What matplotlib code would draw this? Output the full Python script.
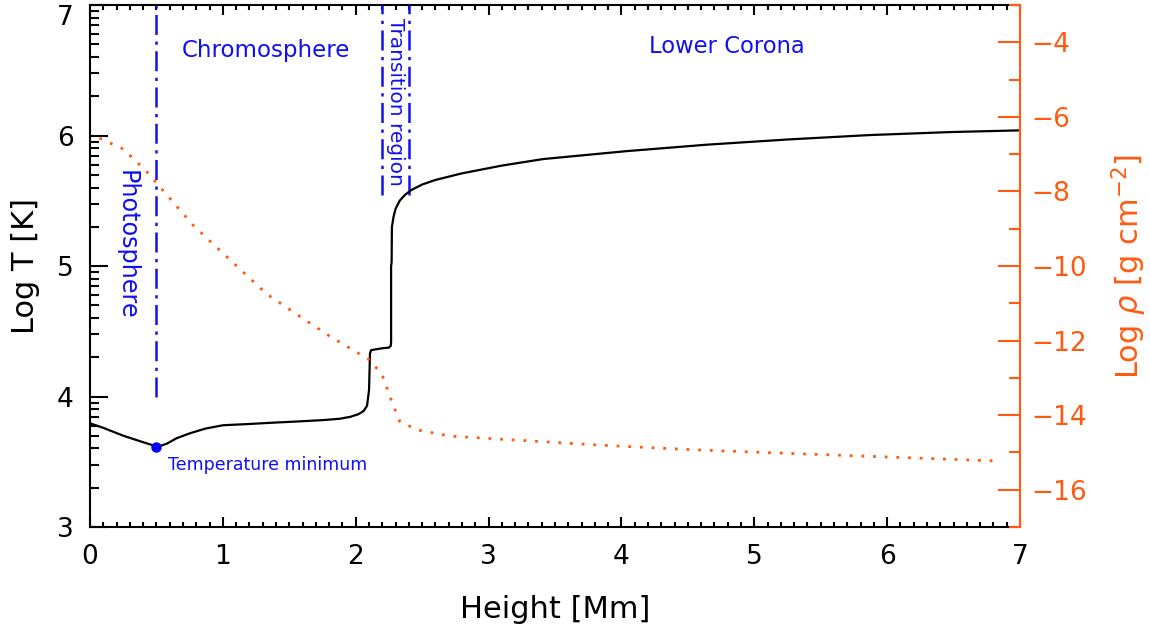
import numpy as np
import matplotlib
matplotlib.use('Agg')
import matplotlib.pyplot as plt
from matplotlib.ticker import FixedLocator, MultipleLocator

# Temperature profile: height [Mm], log T [K]
height_t = [0.0, 0.1, 0.25, 0.4, 0.51, 0.58, 0.65, 0.75, 0.87, 1.0, 1.2, 1.38, 1.58,
            1.76, 1.88, 1.96, 2.02, 2.06, 2.085, 2.10, 2.107, 2.115, 2.14, 2.20, 2.25,
            2.264, 2.266, 2.266, 2.27, 2.272, 2.285, 2.30, 2.33, 2.37, 2.414, 2.50,
            2.60, 2.797, 3.1, 3.41, 4.03, 4.64, 5.25, 5.87, 6.48, 7.0]
log_t = [3.795, 3.76, 3.70, 3.65, 3.615, 3.64, 3.68, 3.718, 3.755, 3.78, 3.79, 3.80,
         3.81, 3.82, 3.83, 3.845, 3.865, 3.89, 3.93, 4.05, 4.33, 4.355, 4.36, 4.37,
         4.375, 4.39, 4.42, 5.00, 5.03, 5.30, 5.38, 5.44, 5.50, 5.545, 5.58, 5.625,
         5.66, 5.71, 5.77, 5.82, 5.88, 5.93, 5.97, 6.004, 6.027, 6.04]

# Density profile: height [Mm], log rho [g cm^-2]
height_rho = [0.07, 0.25, 0.43, 0.65, 0.78, 1.05, 1.33, 1.62, 1.83, 2.107, 2.20,
              2.28, 2.33, 2.46, 2.71, 3.03, 3.50, 3.82, 4.50, 5.00, 6.00, 6.84]
log_rho = [-6.57, -6.86, -7.48, -8.39, -8.92, -9.82, -10.75, -11.45, -11.94,
           -12.52, -12.93, -13.72, -14.16, -14.39, -14.56, -14.63, -14.73,
           -14.80, -14.92, -14.99, -15.12, -15.23]

# Temperature minimum
t_min_height, t_min_logt = 0.5, 3.612

# Region boundaries (height, ymin, ymax in log T)
bound_photo = (0.5, 3.996, 7.0)
bound_tr_low = (2.198, 5.544, 7.0)
bound_tr_high = (2.40, 5.544, 7.0)

col_blue = '#1010F0'
col_orange = '#FF5A10'
font_tick = 19
font_label = 22

fig = plt.figure(figsize=(11.5, 6.35), dpi=100)
ax1 = fig.add_axes([0.0783, 0.170, 0.8087, 0.822])
ax2 = ax1.twinx()

# Temperature curve
ax1.plot(height_t, log_t, color='black', lw=1.6, zorder=4)
ax1.plot([t_min_height], [t_min_logt], 'o', color='#0000FF', ms=6.5, zorder=5)

# Region lines
dash_dot = (0, (8, 2.6, 1.3, 2.6))
for bx, by0, by1 in (bound_photo, bound_tr_low, bound_tr_high):
    ax1.plot([bx, bx], [by0, by1], color=col_blue, lw=1.8, linestyle=dash_dot, zorder=3)

# Region labels
ax1.text(1.325, 6.655, 'Chromosphere', color=col_blue, fontsize=16.5, ha='center', va='center')
ax1.text(4.795, 6.68, 'Lower Corona', color=col_blue, fontsize=16.3, ha='center', va='center')
ax1.text(0.278, 5.16, 'Photosphere', color=col_blue, fontsize=17.2, rotation=270,
         ha='center', va='center')
ax1.text(2.30, 6.26, 'Transition region', color=col_blue, fontsize=14.5, rotation=270,
         ha='center', va='center')
ax1.text(0.587, 3.475, 'Temperature minimum', color=col_blue, fontsize=12.5,
         ha='left', va='center')

# Density curve
ax2.plot(height_rho, log_rho, color=col_orange, lw=2.0, linestyle=(0, (1, 3.2)),
         dash_capstyle='butt', zorder=2)

# Axes limits
ax1.set_xlim(0, 7)
ax1.set_ylim(3, 7)
ax2.set_ylim(-17, -3)

# Left axis ticks (log minor ticks)
ax1.yaxis.set_major_locator(FixedLocator([3, 4, 5, 6, 7]))
minor_t = [n + np.log10(k) for n in range(3, 7) for k in range(2, 10)]
ax1.yaxis.set_minor_locator(FixedLocator(minor_t))
ax1.xaxis.set_major_locator(MultipleLocator(1))
ax1.xaxis.set_minor_locator(MultipleLocator(0.1))
ax1.tick_params(axis='y', which='major', direction='in', length=13, width=1.5,
                left=True, right=False, labelsize=font_tick, pad=12)
ax1.tick_params(axis='y', which='minor', direction='in', length=6.5, width=1.5,
                left=True, right=False)
ax1.tick_params(axis='x', which='major', direction='in', length=7, width=1.5,
                top=True, bottom=True, labelsize=font_tick, pad=12)
ax1.tick_params(axis='x', which='minor', direction='in', length=3.5, width=1.5,
                top=True, bottom=True)
ax1.get_yticklabels()[-1].set_verticalalignment('top')

# Right axis ticks
ax2.yaxis.set_major_locator(MultipleLocator(2))
ax2.yaxis.set_minor_locator(MultipleLocator(1))
ax2.set_yticks(np.arange(-16, -3, 2))
ax2.tick_params(axis='y', which='major', direction='in', length=16, width=1.5,
                color=col_orange, labelcolor=col_orange, labelsize=font_tick, pad=8)
ax2.tick_params(axis='y', which='minor', direction='in', length=8, width=1.5,
                color=col_orange)

for side in ('left', 'top', 'bottom'):
    ax1.spines[side].set_linewidth(1.5)
ax1.spines['right'].set_visible(False)
for side in ('left', 'top', 'bottom'):
    ax2.spines[side].set_visible(False)
ax2.spines['right'].set_color(col_orange)
ax2.spines['right'].set_linewidth(1.5)

ax1.set_xlabel('Height [Mm]', fontsize=font_label, labelpad=18)
ax1.set_ylabel('Log T [K]', fontsize=font_label, labelpad=12)
ax2.set_ylabel(r'Log $\rho$ [g cm$^{-2}$]', fontsize=font_label, color=col_orange,
               labelpad=16)

fig.savefig('out.png', dpi=100)
plt.close()
